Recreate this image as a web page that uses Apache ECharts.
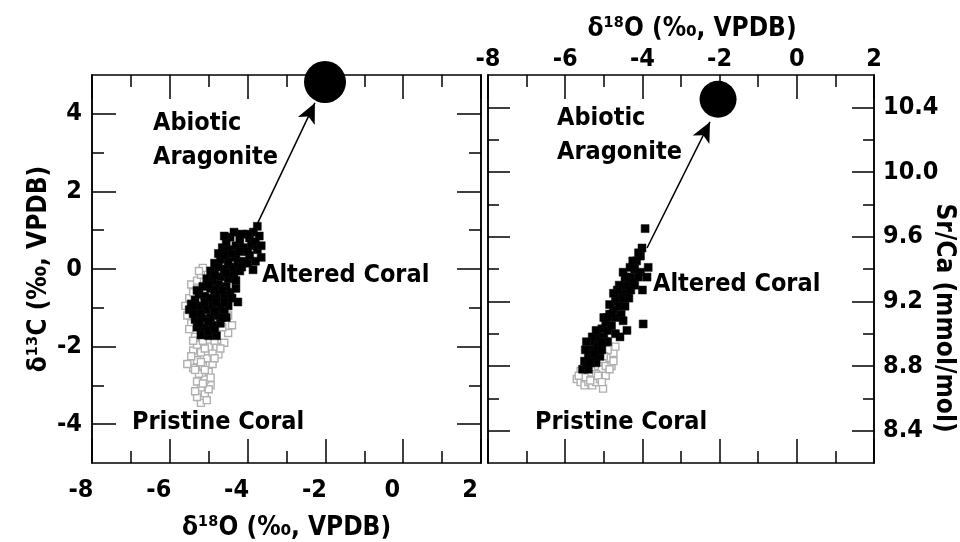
<!DOCTYPE html>
<html lang="en">
<head>
    <meta charset="UTF-8">
    <title>Coral δ18O, δ13C and Sr/Ca</title>
    <script type="text/javascript" src="https://cdn.jsdelivr.net/npm/echarts@6/dist/echarts.min.js"></script>
    <style>
        html, body { margin: 0; padding: 0; background: #fff; }
        #main { width: 960px; height: 542px; }
    </style>
</head>
<body>
<div id="main"></div>
<script>
    // x axis (δ18O) ticks, shared by both panels
    const xMin = -8, xMax = 2, xStep = 2;
    // left panel y (δ13C)
    const leftYRange = [-5, 5];
    const leftYTicks = [-4, -2, 0, 2, 4];
    const leftYMinor = [-3, -1, 1, 3];
    // right panel y (Sr/Ca)
    const rightYRange = [8.2, 10.6];
    const rightYTicks = [8.4, 8.8, 9.2, 9.6, 10.0, 10.4];
    const rightYMinor = [8.6, 9.0, 9.4, 9.8, 10.2];

    // left panel: δ18O vs δ13C
    const leftPristine = [
        [-5.2,-3.45],[-5.05,-3.38],[-5.3,-3.3],[-5.1,-3.2],[-5.2,-3.05],[-4.95,-3.0],[-5.3,-2.9],
        [-5.1,-2.85],[-5.25,-2.7],[-5.0,-2.65],[-5.4,-2.55],[-5.55,-2.45],[-5.15,-2.5],[-4.9,-2.45],
        [-5.3,-2.35],[-5.05,-2.3],[-4.75,-2.2],[-4.9,-2.15],[-5.2,-2.15],[-5.4,-2.1],[-5.0,-2.0],
        [-4.8,-2.0],[-5.3,-1.95],[-4.6,-1.9],[-5.15,-1.85],[-4.5,-1.65],[-4.5,-1.2],[-4.65,-1.5],
        [-5.45,-1.4],[-5.55,-1.2],[-5.6,-0.95],[-5.5,-0.75],[-5.4,-0.6],[-5.45,-0.4],[-5.3,-0.3],
        [-5.2,-0.15],[-5.15,0.03],[-5.3,-0.5],[-5.5,-1.55],[-5.35,-1.75],[-4.85,-1.85],
        [-5.35,-3.15],[-5.0,-3.1],[-5.15,-2.95],[-5.35,-2.6],[-5.1,-2.6],[-4.95,-2.8],[-5.2,-2.4],
        [-4.85,-2.3],[-5.45,-2.25],[-5.1,-2.05],[-4.7,-2.05],[-5.4,-1.85],[-4.4,-1.45],[-5.25,-0.05]
    ];
    const leftAltered = [
        [-5.2,-1.7],[-5.0,-1.72],[-4.8,-1.72],[-5.3,-1.5],[-5.1,-1.5],[-4.9,-1.45],[-4.7,-1.4],
        [-5.35,-1.3],[-5.15,-1.28],[-4.95,-1.25],[-4.75,-1.2],[-4.55,-1.25],
        [-5.5,-1.05],[-5.45,-0.9],[-5.3,-1.1],[-5.2,-0.95],[-5.05,-1.05],[-4.9,-0.95],[-4.7,-1.0],
        [-4.5,-0.95],[-4.25,-0.85],[-5.35,-0.8],
        [-5.25,-0.65],[-5.1,-0.7],[-4.95,-0.75],[-4.8,-0.65],[-4.6,-0.7],[-4.45,-0.6],[-5.15,-0.45],
        [-4.95,-0.5],[-4.75,-0.4],[-4.55,-0.45],
        [-5.05,-0.25],[-4.9,-0.3],[-4.7,-0.2],[-4.5,-0.25],[-4.35,-0.15],[-4.95,-0.05],[-4.6,0.0],
        [-4.4,0.05],[-4.2,-0.05],[-3.86,-0.02],
        [-4.85,0.15],[-4.7,0.25],[-4.5,0.2],[-4.3,0.3],[-4.1,0.2],[-3.95,0.35],[-3.65,0.3],[-4.75,0.4],
        [-4.65,0.55],[-4.5,0.5],[-4.3,0.6],[-4.1,0.55],[-3.9,0.6],[-3.75,0.5],[-4.55,0.7],[-4.2,0.75],
        [-3.95,0.8],[-4.45,0.82],
        [-3.85,0.95],[-3.75,1.1],[-4.0,0.9],[-3.7,0.85],
        [-5.0,-1.6],[-4.85,-1.55],[-5.25,-1.4],[-5.0,-1.35],[-4.6,-1.1],[-4.85,-1.1],[-5.4,-1.15],
        [-5.1,-0.85],[-4.8,-0.85],[-4.6,-0.85],[-5.3,-0.55],[-4.85,-0.55],[-4.65,-0.55],[-5.0,-0.4],
        [-4.85,-0.15],[-4.55,-0.1],[-4.75,0.05],[-4.3,-0.3],[-4.6,0.35],[-4.4,0.4],[-4.2,0.45],
        [-4.0,0.45],[-3.8,0.7],[-4.35,0.95],[-4.15,0.9],[-4.6,0.85],[-3.65,0.6],[-4.0,0.15],[-4.25,0.15],
        [-5.4,-0.95],[-5.2,-1.15],[-4.65,-1.25],[-4.4,-0.75],[-4.3,-0.5],[-4.15,0.05],[-3.8,0.2]
    ];
    const leftAbiotic = [[-2.01, 4.82]];
    const leftArrow = [[-3.86, 0.93], [-2.27, 4.28]];

    // right panel: δ18O vs Sr/Ca
    const rightPristine = [
        [-5.7,8.72],[-5.6,8.7],[-5.5,8.68],[-5.4,8.7],[-5.3,8.68],[-5.2,8.7],[-5.1,8.72],[-5.02,8.66],
        [-5.6,8.77],[-5.45,8.75],[-5.35,8.76],[-5.25,8.78],[-5.15,8.8],[-5.05,8.78],[-4.95,8.8],
        [-4.85,8.85],[-4.75,8.88],[-4.9,8.9],[-5.0,8.86],[-4.8,8.8],[-5.2,8.75],[-4.7,8.92],[-5.5,8.73],
        [-5.65,8.74],[-5.35,8.71],[-5.15,8.74],[-4.95,8.74],[-5.05,8.7],[-4.85,8.78],[-4.75,8.83]
    ];
    const rightAltered = [
        [-5.55,8.78],[-5.5,8.83],[-5.45,8.8],[-5.4,8.86],[-5.35,8.9],[-5.48,8.9],[-5.3,8.85],
        [-5.25,8.95],[-5.2,8.9],[-5.15,8.98],[-5.1,8.93],[-5.3,8.98],[-5.05,9.03],[-5.0,8.98],
        [-4.95,9.07],[-4.9,9.02],[-4.85,9.12],[-5.0,9.1],[-4.8,9.05],[-4.75,9.15],[-4.7,9.1],
        [-4.65,9.2],[-4.85,9.18],[-4.6,9.17],[-4.58,8.98],[-4.55,9.25],[-4.5,9.22],[-4.65,9.27],
        [-4.45,9.3],[-4.4,9.25],[-4.6,9.3],[-4.35,9.3],[-4.3,9.35],[-4.4,9.02],[-4.25,9.32],
        [-4.5,9.38],[-4.2,9.4],[-4.15,9.45],[-4.32,9.41],[-4.05,9.38],[-4.0,9.27],[-3.88,9.35],
        [-3.85,9.41],[-4.05,9.48],[-4.01,9.53],[-3.93,9.65],[-3.98,9.06],[-4.7,9.0],[-4.9,8.95],
        [-5.1,8.86],[-5.4,8.78],[-5.2,8.82],
        [-5.45,8.95],[-5.35,8.82],[-5.25,8.88],[-5.15,8.92],[-5.05,8.9],[-4.95,8.95],[-4.8,9.12],
        [-4.7,9.22],[-4.55,9.12],[-4.5,9.08],[-4.45,9.17],[-4.35,9.22],[-4.3,9.27],[-4.2,9.3],
        [-4.1,9.35],[-4.25,9.45],[-4.1,9.5],[-4.45,9.35],[-4.9,9.1],[-5.2,9.02],[-5.05,8.95],[-4.75,9.25]
    ];
    const rightAbiotic = [[-2.04, 10.45]];
    const rightArrow = [[-3.88, 9.53], [-2.25, 10.31]];

    const FONT = 'DejaVu Sans Condensed';
    const FS = 25;
    const TITLE_FS = 26;

    function xAxisOf(grid, pos, labels) {
        return {
            type: 'value', gridIndex: grid, position: pos,
            min: xMin, max: xMax, interval: xStep,
            axisLine: { show: true, onZero: false, lineStyle: { color: '#000', width: 1.5 } },
            axisTick: { show: true, inside: true, length: 24, lineStyle: { color: '#000', width: 1.5 } },
            minorTick: { show: true, splitNumber: 2, length: 12, lineStyle: { color: '#000', width: 1.5 } },
            splitLine: { show: false },
            axisLabel: { show: labels, color: '#000', fontFamily: FONT, fontWeight: 'bold', fontSize: FS }
        };
    }
    function yAxisOf(grid, pos, range, ticks, len, labels) {
        return {
            type: 'value', gridIndex: grid, position: pos,
            min: range[0], max: range[1],
            axisLine: { show: true, onZero: false, lineStyle: { color: '#000', width: 1.5 } },
            axisTick: { show: true, inside: true, length: len, customValues: ticks,
                        lineStyle: { color: '#000', width: 1.5 } },
            splitLine: { show: false },
            axisLabel: { show: labels, customValues: ticks, color: '#000',
                         fontFamily: FONT, fontWeight: 'bold', fontSize: FS }
        };
    }

    const xAxes = [
        xAxisOf(0, 'bottom', true),
        xAxisOf(0, 'top', false),
        xAxisOf(1, 'top', true),
        xAxisOf(1, 'bottom', false)
    ];
    // bottom labels of the left panel sit a little left of their ticks
    xAxes[0].axisLabel.padding = [0, 22, 0, 0];
    xAxes[0].axisLabel.margin = 15;
    xAxes[0].name = 'δ¹⁸O (‰, VPDB)';
    xAxes[0].nameLocation = 'middle';
    xAxes[0].nameGap = 52;
    xAxes[0].nameTextStyle = { color: '#000', fontFamily: FONT, fontWeight: 'bold', fontSize: TITLE_FS };
    xAxes[2].axisLabel.margin = 3;
    xAxes[2].name = 'δ¹⁸O (‰, VPDB)';
    xAxes[2].nameLocation = 'middle';
    xAxes[2].nameGap = 27;
    xAxes[2].nameTextStyle = { color: '#000', fontFamily: FONT, fontWeight: 'bold', fontSize: TITLE_FS,
                               padding: [0, 0, 0, 22] };

    const yAxes = [
        yAxisOf(0, 'left', leftYRange, leftYTicks, 24, true),
        yAxisOf(0, 'left', leftYRange, leftYMinor, 12, false),
        yAxisOf(0, 'right', leftYRange, leftYTicks, 24, false),
        yAxisOf(0, 'right', leftYRange, leftYMinor, 12, false),
        yAxisOf(1, 'left', rightYRange, rightYTicks, 22, false),
        yAxisOf(1, 'left', rightYRange, rightYMinor, 11, false),
        yAxisOf(1, 'right', rightYRange, rightYTicks, 22, true),
        yAxisOf(1, 'right', rightYRange, rightYMinor, 11, false)
    ];
    yAxes[0].axisLabel.margin = 10;
    yAxes[0].name = 'δ¹³C (‰, VPDB)';
    yAxes[0].nameLocation = 'middle';
    yAxes[0].nameGap = 40;
    yAxes[0].nameTextStyle = { color: '#000', fontFamily: FONT, fontWeight: 'bold', fontSize: TITLE_FS };
    yAxes[6].axisLabel.margin = 9;
    yAxes[6].axisLabel.formatter = v => v.toFixed(1);

    const pristineStyle = { color: '#fff', borderColor: '#b0b0b0', borderWidth: 1.4, opacity: 1 };
    const alteredStyle = { color: '#000', borderColor: '#111', borderWidth: 0.5, opacity: 1 };

    function arrowOf(pts) {
        return {
            silent: true, symbol: ['none', 'arrow'], symbolSize: [14, 20],
            label: { show: false },
            lineStyle: { color: '#000', width: 1.5, type: 'solid', opacity: 1 },
            data: [[{ coord: pts[0] }, { coord: pts[1] }]]
        };
    }

    const annFont = 'bold 25px "DejaVu Sans Condensed"';
    const chart = echarts.init(document.getElementById('main'));
    chart.setOption({
        animation: false,
        backgroundColor: '#fff',
        textStyle: { fontFamily: FONT },
        grid: [
            { left: 92, top: 75, width: 389, height: 388, outerBoundsMode: 'none', containLabel: false },
            { left: 488, top: 75, width: 386, height: 388, outerBoundsMode: 'none', containLabel: false }
        ],
        xAxis: xAxes,
        yAxis: yAxes,
        series: [
            { type: 'scatter', xAxisIndex: 0, yAxisIndex: 0, symbol: 'rect', symbolSize: 7,
              itemStyle: pristineStyle, data: leftPristine },
            { type: 'scatter', xAxisIndex: 0, yAxisIndex: 0, symbol: 'rect', symbolSize: 8,
              itemStyle: alteredStyle, data: leftAltered },
            { type: 'scatter', xAxisIndex: 0, yAxisIndex: 0, symbol: 'circle', symbolSize: 42, clip: false,
              itemStyle: { color: '#000', opacity: 1 }, data: leftAbiotic, markLine: arrowOf(leftArrow) },
            { type: 'scatter', xAxisIndex: 2, yAxisIndex: 4, symbol: 'rect', symbolSize: 7,
              itemStyle: pristineStyle, data: rightPristine },
            { type: 'scatter', xAxisIndex: 2, yAxisIndex: 4, symbol: 'rect', symbolSize: 8,
              itemStyle: alteredStyle, data: rightAltered },
            { type: 'scatter', xAxisIndex: 2, yAxisIndex: 4, symbol: 'circle', symbolSize: 37, clip: false,
              itemStyle: { color: '#000', opacity: 1 }, data: rightAbiotic, markLine: arrowOf(rightArrow) }
        ],
        graphic: [
            { type: 'text', left: 153, top: 106, style: { text: 'Abiotic\nAragonite', fill: '#000',
              font: annFont, lineHeight: 34 } },
            { type: 'text', left: 262, top: 263, style: { text: 'Altered Coral', fill: '#000', font: annFont } },
            { type: 'text', left: 132, top: 410, style: { text: 'Pristine Coral', fill: '#000', font: annFont } },
            { type: 'text', left: 557, top: 101, style: { text: 'Abiotic\nAragonite', fill: '#000',
              font: annFont, lineHeight: 34 } },
            { type: 'text', left: 653, top: 272, style: { text: 'Altered Coral', fill: '#000', font: annFont } },
            { type: 'text', left: 535, top: 410, style: { text: 'Pristine Coral', fill: '#000', font: annFont } },
            // right axis title, reading downwards
            { type: 'text', x: 944, y: 318, rotation: -Math.PI / 2,
              style: { text: 'Sr/Ca (mmol/mol)', fill: '#000', align: 'center', verticalAlign: 'middle',
                       font: 'bold 26px "DejaVu Sans Condensed"' } }
        ]
    });
</script>
</body>
</html>
